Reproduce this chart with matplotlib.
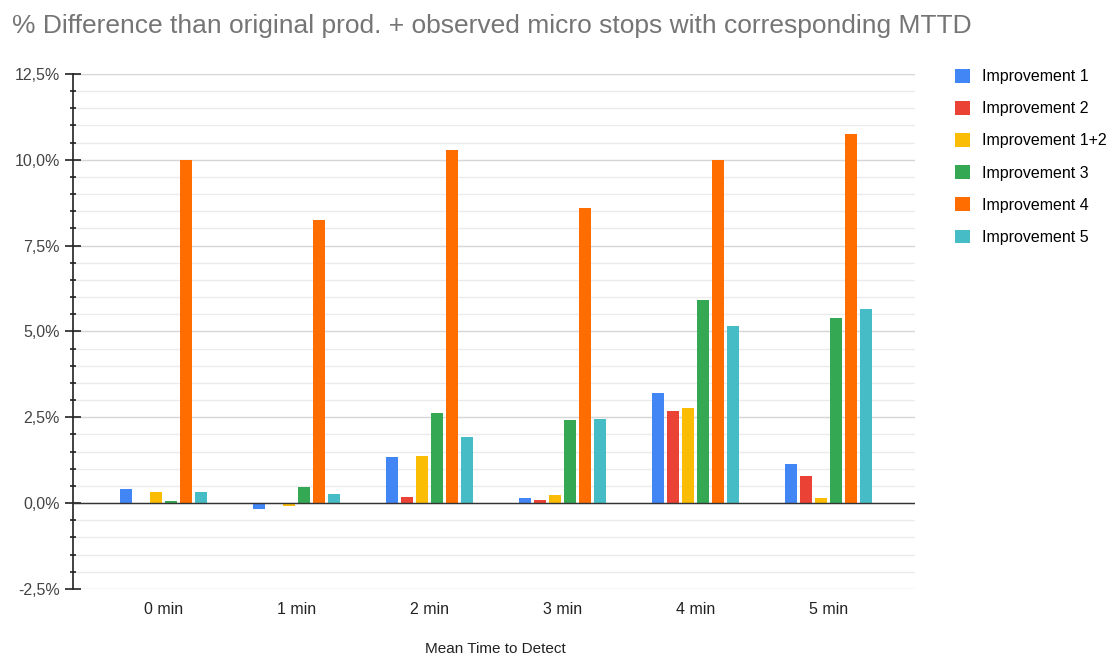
import numpy as np
import matplotlib
matplotlib.use('Agg')
import matplotlib.pyplot as plt
from matplotlib.patches import Patch
from matplotlib.ticker import FuncFormatter, MultipleLocator

plt.rcParams['font.family'] = ['Liberation Sans', 'DejaVu Sans']

# mean time to detect categories
mttd = ['0 min', '1 min', '2 min', '3 min', '4 min', '5 min']

# % difference vs original production, one list per improvement
improvement_1 = [0.41, -0.17, 1.34, 0.16, 3.20, 1.15]
improvement_2 = [0.00, 0.00, 0.19, 0.08, 2.69, 0.80]
improvement_12 = [0.32, -0.07, 1.38, 0.23, 2.77, 0.16]
improvement_3 = [0.05, 0.48, 2.63, 2.41, 5.92, 5.40]
improvement_4 = [10.00, 8.25, 10.28, 8.59, 9.98, 10.76]
improvement_5 = [0.32, 0.27, 1.94, 2.45, 5.17, 5.64]

series = {
    'Improvement 1': improvement_1,
    'Improvement 2': improvement_2,
    'Improvement 1+2': improvement_12,
    'Improvement 3': improvement_3,
    'Improvement 4': improvement_4,
    'Improvement 5': improvement_5,
}
colors = ['#4285F4', '#EA4335', '#FBBC04', '#34A853', '#FF6D01', '#46BDC6']

fig = plt.figure(figsize=(11.15, 6.57), dpi=100)
ax = fig.add_axes([0.0655, 0.1035, 0.755, 0.784])

x = np.arange(len(mttd))
pitch = 0.113
width = 0.09
for i, (name, vals) in enumerate(series.items()):
    offs = (i - 2.5) * pitch
    ax.bar(x + offs, vals, width=width, color=colors[i], label=name, zorder=3)

ax.set_xlim(-0.68, 5.65)
ax.set_ylim(-2.5, 12.5)
ax.yaxis.set_major_locator(MultipleLocator(2.5))
ax.yaxis.set_minor_locator(MultipleLocator(0.5))
ax.yaxis.set_major_formatter(FuncFormatter(lambda v, p: '{:.1f}%'.format(v).replace('.', ',')))

ax.grid(axis='y', which='minor', color='#ebebeb', linewidth=1, zorder=0)
ax.grid(axis='y', which='major', color='#d6d6d6', linewidth=1, zorder=0)
ax.axhline(0, color='#333333', linewidth=1, zorder=4)

for side in ['top', 'right', 'bottom']:
    ax.spines[side].set_visible(False)
ax.spines['left'].set_color('#222222')
ax.spines['left'].set_linewidth(1.2)

ax.tick_params(axis='y', which='major', direction='inout', length=11, width=1.2,
               color='#222222', labelsize=11.5, labelcolor='#444444', pad=4)
ax.tick_params(axis='y', which='minor', direction='inout', length=5, width=1.2,
               color='#222222')
ax.set_xticks(x)
ax.set_xticklabels(mttd)
ax.tick_params(axis='x', length=0, labelsize=11.5, labelcolor='#222222', pad=9)

# axis title sits near the bottom edge of the figure
fig.text(0.444, 0.0115, 'Mean Time to Detect', fontsize=11, color='#222222',
         ha='center', va='center')

fig.text(0.011, 0.96, '% Difference than original prod. + observed micro stops with corresponding MTTD',
         fontsize=19, color='#757575', va='center', ha='left')

handles = [Patch(facecolor=c, label=n) for n, c in zip(series.keys(), colors)]
fig.legend(handles=handles, loc='upper left', bbox_to_anchor=(0.851, 0.905),
           frameon=False, fontsize=11.5, handlelength=0.95, handleheight=0.95,
           handletextpad=0.7, labelspacing=1.05, borderaxespad=0)

fig.savefig('out.png', dpi=100)
